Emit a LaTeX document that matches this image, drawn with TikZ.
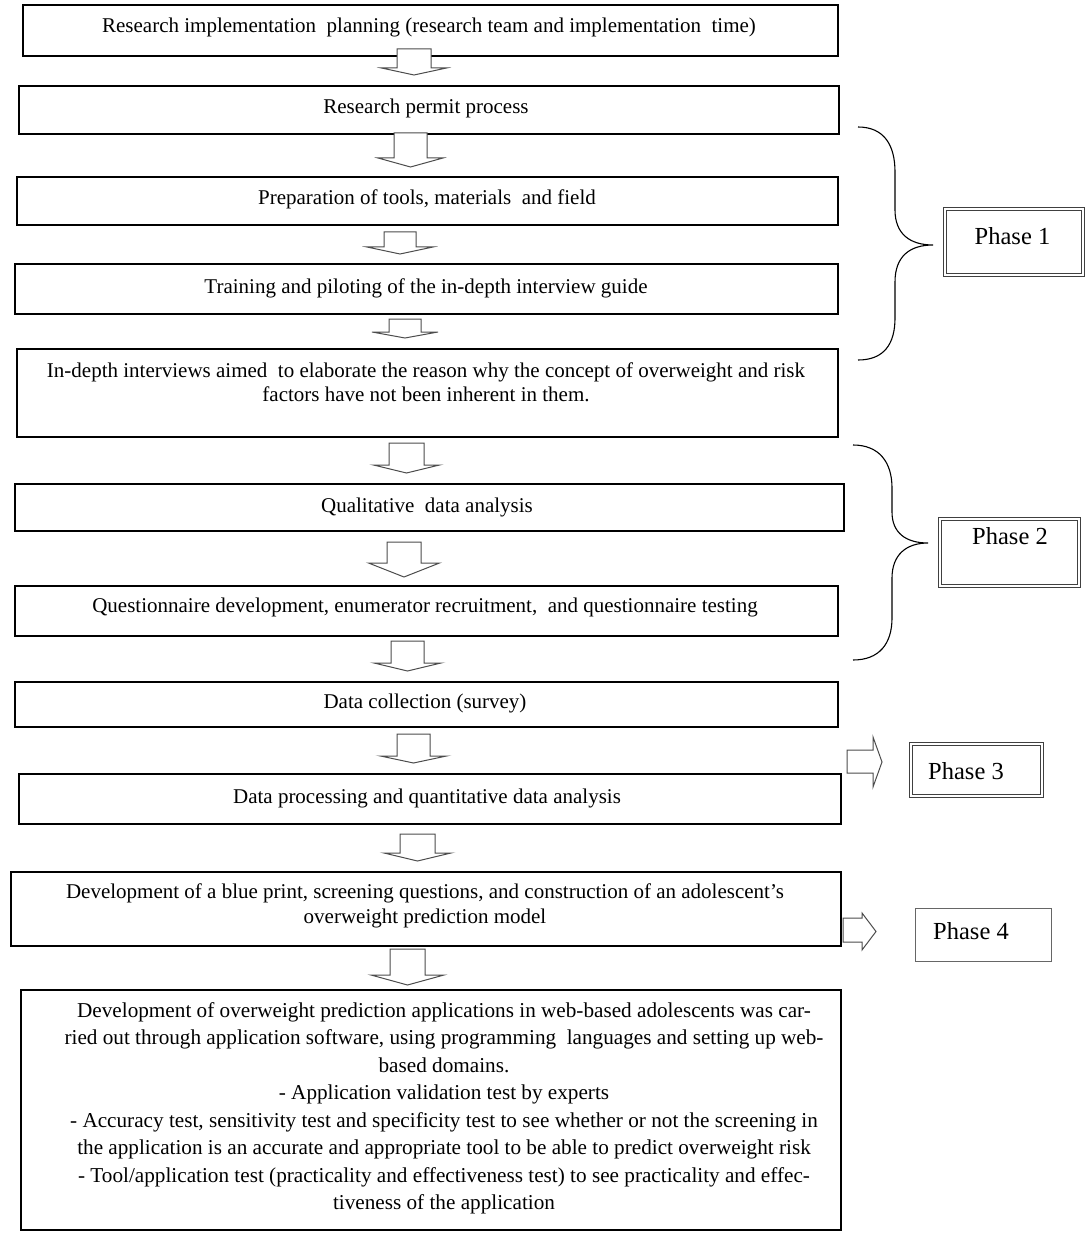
\documentclass[tikz,border=0pt]{standalone}
\usepackage{fontspec}
\setmainfont{Liberation Serif}
\newcommand{\BlockDown}[6]{%
  \draw[blockarrow] ({#1-#5},#2) -- ({#1+#5},#2) -- ({#1+#5},#3) -- ({#1+#6},#3) -- (#1,#4) -- ({#1-#6},#3) -- ({#1-#5},#3) -- cycle;}
\newcommand{\BlockRight}[7]{% x0, y0, y1, xh, yh0, yh1, xtip
  \draw[blockarrow] (#1,#2) -- (#4,#2) -- (#4,#5) -- (#7,{(#5+#6)/2}) -- (#4,#6) -- (#4,#3) -- (#1,#3) -- cycle;}
\begin{document}
\begin{tikzpicture}[x=1pt,y=-1pt,
  box/.style={draw=black,line width=1.6pt,inner sep=0pt,anchor=north west},
  txt/.style={inner sep=0pt,align=center,font={\fontsize{21}{24.5}\selectfont}},
  bigtxt/.style={inner sep=0pt,align=center,font={\fontsize{21.2}{27.5}\selectfont}},
  phasebox/.style={draw=black!75,double=white,double distance=2pt,line width=1pt,inner sep=0pt,anchor=north west},
  phasebox4/.style={draw=black!60,line width=1.5pt,inner sep=0pt,anchor=north west},
  phasetxt/.style={inner sep=0pt,font={\fontsize{24.5}{28}\selectfont}},
  blockarrow/.style={draw=black!70,line width=1pt,fill=white,line join=miter},
  bracestyle/.style={draw=black,line width=1.1pt}]
\useasboundingbox (0,0) rectangle (1089,1238);
% boxes
\node[box,minimum width=815pt,minimum height=51pt] (b1) at (22,4) {};
\node[box,minimum width=820pt,minimum height=48pt] (b2) at (18,85) {};
\node[box,minimum width=821pt,minimum height=48pt] (b3) at (16,176) {};
\node[box,minimum width=823pt,minimum height=50pt] (b4) at (14,263) {};
\node[box,minimum width=821pt,minimum height=88pt] (b5) at (16,348) {};
\node[box,minimum width=829pt,minimum height=47pt] (b6) at (14,483) {};
\node[box,minimum width=823pt,minimum height=50pt] (b7) at (14,585) {};
\node[box,minimum width=823pt,minimum height=45pt] (b8) at (14,681) {};
\node[box,minimum width=822pt,minimum height=50pt] (b9) at (18,773) {};
\node[box,minimum width=830pt,minimum height=74pt] (b10) at (10,871) {};
\node[box,minimum width=820pt,minimum height=240pt] (b11) at (20,989) {};
% texts
\node[txt] (t1) at (429,27.5) {Research implementation\ \ planning (research team and implementation\ \ time)};
\node[txt] (t2) at (426,108.5) {Research permit process};
\node[txt] (t3) at (427,199.5) {Preparation of tools, materials\ \ and field};
\node[txt] (t4) at (426,288.5) {Training and piloting of the in-depth interview guide};
\node[txt] (t5) at (426,382.5) {In-depth interviews aimed\ \ to elaborate the reason why the concept of overweight and risk\\factors have not been inherent in them.};
\node[txt] (t6) at (427,507.5) {Qualitative\ \ data analysis};
\node[txt] (t7) at (425,607.5) {Questionnaire development, enumerator recruitment,\ \ and questionnaire testing};
\node[txt] (t8) at (425,703.5) {Data collection (survey)};
\node[txt] (t9) at (427,798.5) {Data processing and quantitative data analysis};
\node[txt] (t10) at (425,906) {Development of a blue print, screening questions, and construction of an adolescent’s\\overweight prediction model};
\node[bigtxt] (t11) at (444,1108.5) {Development of overweight prediction applications in web-based adolescents was car-\\
ried out through application software, using programming\ \ languages and setting up web-\\
based domains.\\
- Application validation test by experts\\
- Accuracy test, sensitivity test and specificity test to see whether or not the screening in\\
the application is an accurate and appropriate tool to be able to predict overweight risk\\
- Tool/application test (practicality and effectiveness test) to see practicality and effec-\\
tiveness of the application};
% down block arrows
\BlockDown{414}{49}{68}{75}{17}{32.5}
\BlockDown{410.5}{133}{158}{167}{16.5}{32.5}
\BlockDown{400}{232}{247}{254}{16}{33}
\BlockDown{405}{319}{332}{338}{16}{33}
\BlockDown{406.5}{443}{465}{473}{17.5}{33}
\BlockDown{404}{542}{563}{577}{17}{35.5}
\BlockDown{407.5}{641}{663}{671}{16.5}{33.5}
\BlockDown{413.5}{734}{756}{763}{16.5}{33}
\BlockDown{417.5}{834}{853}{861}{17.5}{33.5}
\BlockDown{407.5}{949}{975}{985}{17.5}{36.5}
% right block arrows
\BlockRight{847}{750}{773}{873}{737}{787}{882}
\BlockRight{843}{918}{942}{862}{913}{950}{876}
% braces
\draw[bracestyle] (858,127) .. controls (884,127) and (895,145) .. (895,172) -- (895,210)
  .. controls (895,234) and (910,245) .. (933,245)
  .. controls (910,245) and (895,256) .. (895,282) -- (895,318)
  .. controls (895,344) and (884,360) .. (858,360);
\draw[bracestyle] (853,445) .. controls (879,445) and (892,462) .. (892,488) -- (892,512)
  .. controls (892,533) and (906,543) .. (928,543)
  .. controls (906,543) and (892,555) .. (892,578) -- (892,618)
  .. controls (892,644) and (879,660) .. (853,660);
% phase boxes
\node[phasebox,minimum width=138pt,minimum height=66pt] (p1) at (944,208.5) {};
\node[phasebox,minimum width=139pt,minimum height=67pt] (p2) at (939,518.5) {};
\node[phasebox,minimum width=131pt,minimum height=52pt] (p3) at (910,743.5) {};
\node[phasebox4,minimum width=136pt,minimum height=53pt] (p4) at (914.5,907.5) {};
\node[phasetxt] (pt1) at (1012.5,236) {Phase 1};
\node[phasetxt] (pt2) at (1010,536.5) {Phase 2};
\node[phasetxt] (pt3) at (966,771) {Phase 3};
\node[phasetxt] (pt4) at (971,931) {Phase 4};
\end{tikzpicture}
\end{document}
